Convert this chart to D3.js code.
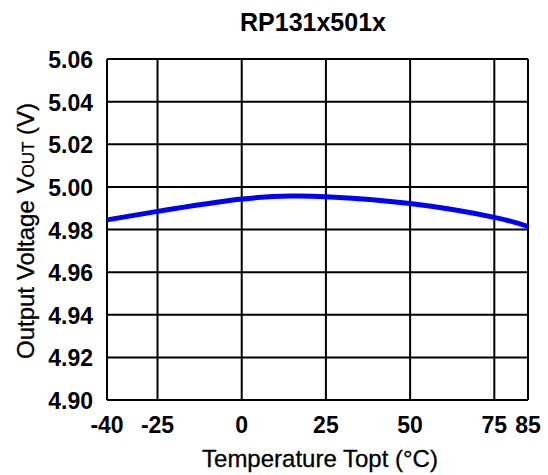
<!DOCTYPE html>
<html>
<head>
<meta charset="utf-8">
<script src="https://cdn.jsdelivr.net/npm/d3@7"></script>
<style>
  body { margin: 0; background: #fff; }
  text { font-family: "Liberation Sans", Arial, sans-serif; fill: #000; }
</style>
</head>
<body>
<svg id="chart" width="548" height="475"></svg>
<script>
// temperature (°C) vs output voltage (V)
const temps = [-40, -25, 0, 15, 25, 50, 75, 85];
const vout = [4.9845, 4.9885, 4.9943, 4.9957, 4.9954, 4.9922, 4.9857, 4.9814];
const xTicks = [-40, -25, 0, 25, 50, 75, 85];
const yTicks = [4.90, 4.92, 4.94, 4.96, 4.98, 5.00, 5.02, 5.04, 5.06];

const margin = { top: 59, right: 20, bottom: 75, left: 107 };
const width = 548 - margin.left - margin.right;
const height = 475 - margin.top - margin.bottom;

const svg = d3.select('#chart');
const g = svg.append('g').attr('transform', `translate(${margin.left},${margin.top})`);

const x = d3.scaleLinear().domain([-40, 85]).range([0, width]);
const y = d3.scaleLinear().domain([4.90, 5.06]).range([height, 0]);

// grid
g.selectAll('.vgrid').data(xTicks).enter().append('line')
    .attr('x1', d => x(d)).attr('x2', d => x(d))
    .attr('y1', 0).attr('y2', height)
    .attr('stroke', '#000').attr('stroke-width', 2);
g.selectAll('.hgrid').data(yTicks).enter().append('line')
    .attr('x1', 0).attr('x2', width)
    .attr('y1', d => y(d)).attr('y2', d => y(d))
    .attr('stroke', '#000').attr('stroke-width', 2);

// tick labels
g.selectAll('.ylab').data(yTicks).enter().append('text')
    .attr('x', -14).attr('y', d => y(d) + 9)
    .attr('text-anchor', 'end')
    .style('font-size', '23px').style('font-weight', 'bold')
    .text(d => d.toFixed(2));
g.selectAll('.xlab').data(xTicks).enter().append('text')
    .attr('x', d => x(d)).attr('y', height + 33)
    .attr('text-anchor', 'middle')
    .style('font-size', '23px').style('font-weight', 'bold')
    .text(d => d);

// the curve
const line = d3.line()
    .x((d, i) => x(temps[i]))
    .y(d => y(d))
    .curve(d3.curveNatural);
g.append('path').datum(vout)
    .attr('fill', 'none')
    .attr('stroke', '#0000ff')
    .attr('stroke-width', 5)
    .attr('d', line);

// titles
svg.append('text')
    .attr('x', 313).attr('y', 31)
    .attr('text-anchor', 'middle')
    .style('font-size', '25px').style('font-weight', 'bold')
    .text('RP131x501x');

svg.append('text')
    .attr('x', 320).attr('y', 467)
    .attr('text-anchor', 'middle')
    .style('font-size', '24px')
    .style('stroke', '#000').style('stroke-width', 0.3)
    .text('Temperature Topt (°C)');

const yt = svg.append('text')
    .attr('transform', 'translate(34,231) rotate(-90)')
    .attr('text-anchor', 'middle')
    .style('font-size', '24px')
    .style('stroke', '#000').style('stroke-width', 0.3);
yt.append('tspan').text('Output Voltage V');
yt.append('tspan').style('font-size', '17px').text('OUT');
yt.append('tspan').text(' (V)');
</script>
</body>
</html>
